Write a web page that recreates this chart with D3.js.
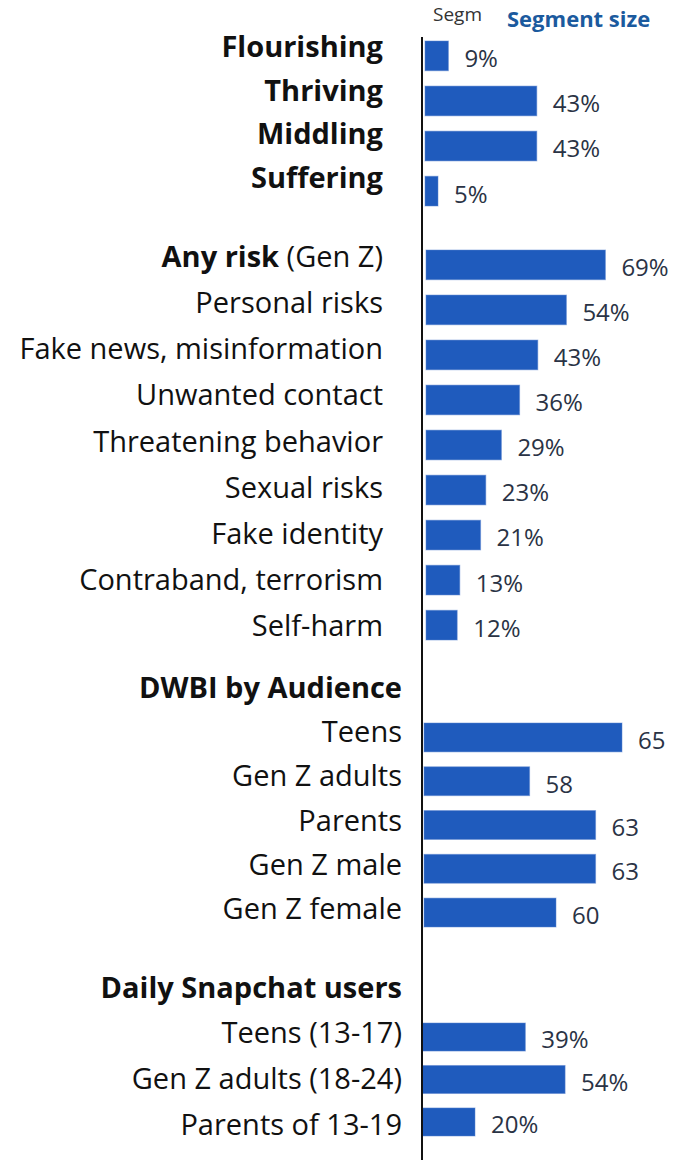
<!DOCTYPE html>
<html>
<head>
<meta charset="utf-8">
<script src="https://cdn.jsdelivr.net/npm/d3@7"></script>
<style>
  html, body { margin: 0; padding: 0; background: #fff; }
  svg { display: block; }
  .cat { font-family: "Open Sans", "Noto Sans", sans-serif; fill: #111; }
  .val { font-family: "Open Sans", "Noto Sans", sans-serif; fill: #2a3345; }
</style>
</head>
<body>
<svg id="chart" width="675" height="1160"></svg>
<script>
// wellbeing segments
const segmentLabels = ["Flourishing", "Thriving", "Middling", "Suffering"];
const segmentValues = [9, 43, 43, 5];

// online risk exposure
const riskLabels = ["Any risk", "Personal risks", "Fake news, misinformation", "Unwanted contact",
  "Threatening behavior", "Sexual risks", "Fake identity", "Contraband, terrorism", "Self-harm"];
const riskValues = [69, 54, 43, 36, 29, 23, 21, 13, 12];

// DWBI index scores
const audienceLabels = ["Teens", "Gen Z adults", "Parents", "Gen Z male", "Gen Z female"];
const audienceValues = [65, 58, 63, 63, 60];

// daily Snapchat use
const snapLabels = ["Teens (13-17)", "Gen Z adults (18-24)", "Parents of 13-19"];
const snapValues = [39, 54, 20];

const svg = d3.select("#chart");
const barFill = "#1f5bbd";
const axisX = 422;
const labelSize = 29;

// each block keeps its own scales, the way the pieces were put together
const panels = [
  {
    labels: segmentLabels, values: segmentValues, fmt: v => `${v}%`, boldAll: true,
    x: d3.scaleLinear().domain([0, 100]).range([425, 685]),
    bars: [41, 206], labelYs: [57, 188], labelRight: 383
  },
  {
    labels: riskLabels, values: riskValues, fmt: v => `${v}%`, suffix: { 0: " (Gen Z)" }, boldFirst: true,
    x: d3.scaleLinear().domain([0, 100]).range([426, 686]),
    bars: [250, 640], labelYs: [267, 636], labelRight: 383
  },
  {
    title: "DWBI by Audience", titleY: 698,
    labels: audienceLabels, values: audienceValues, fmt: v => `${v}`,
    x: d3.scaleLinear().domain([50, 70]).range([424, 688]),
    bars: [723, 927], labelYs: [742, 919], labelRight: 402
  },
  {
    title: "Daily Snapchat users", titleY: 998,
    labels: snapLabels, values: snapValues, fmt: v => `${v}%`,
    x: d3.scaleLinear().domain([0, 100]).range([422, 687]),
    bars: [1023, 1136], labelYs: [1043, 1135], labelRight: 402
  }
];

panels.forEach((p, pi) => {
  const g = svg.append("g").attr("class", `panel-${pi}`);
  const idx = d3.range(p.labels.length);

  const y = d3.scaleBand().domain(idx).range(p.bars).paddingInner(0.34).paddingOuter(0);
  const ly = d3.scalePoint().domain(idx).range(p.labelYs);

  g.selectAll("rect")
    .data(idx)
    .join("rect")
    .attr("x", p.x.range()[0])
    .attr("y", i => y(i))
    .attr("width", i => p.x(p.values[i]) - p.x.range()[0])
    .attr("height", y.bandwidth())
    .attr("fill", barFill)
    .attr("stroke", "#5a84cf")
    .attr("stroke-opacity", 0.5)
    .attr("stroke-width", 1);

  g.selectAll("text.val")
    .data(idx)
    .join("text")
    .attr("class", "val")
    .attr("x", i => p.x(p.values[i]) + 16)
    .attr("y", i => y(i) + y.bandwidth() / 2 + 3)
    .attr("dy", "0.35em")
    .attr("font-size", 24)
    .text(i => p.fmt(p.values[i]));

  const cats = g.selectAll("text.cat")
    .data(idx)
    .join("text")
    .attr("class", "cat")
    .attr("x", p.labelRight)
    .attr("y", i => ly(i))
    .attr("text-anchor", "end")
    .attr("font-size", labelSize);

  cats.append("tspan")
    .attr("font-weight", i => (p.boldAll || (p.boldFirst && i === 0)) ? 700 : 400)
    .text(i => p.labels[i]);
  cats.filter(i => p.suffix && p.suffix[i])
    .append("tspan")
    .attr("font-weight", 400)
    .text(i => p.suffix[i]);

  if (p.title) {
    g.append("text")
      .attr("class", "cat")
      .attr("x", p.labelRight)
      .attr("y", p.titleY)
      .attr("text-anchor", "end")
      .attr("font-size", labelSize)
      .attr("font-weight", 700)
      .text(p.title);
  }
});

// vertical baseline shared by all blocks
svg.append("line")
  .attr("x1", axisX).attr("x2", axisX)
  .attr("y1", 37).attr("y2", 1160)
  .attr("stroke", "#111")
  .attr("stroke-width", 2);

// header: short grey stub, then the blue column title
svg.append("text")
  .attr("x", 433).attr("y", 21)
  .attr("font-family", "'Open Sans', sans-serif")
  .attr("font-size", 19)
  .attr("fill", "#333")
  .text("Segm");

svg.append("text")
  .attr("x", 507).attr("y", 27)
  .attr("font-family", "'Open Sans', sans-serif")
  .attr("font-size", 22)
  .attr("font-weight", 700)
  .attr("fill", "#1b5a9e")
  .text("Segment size");
</script>
</body>
</html>
